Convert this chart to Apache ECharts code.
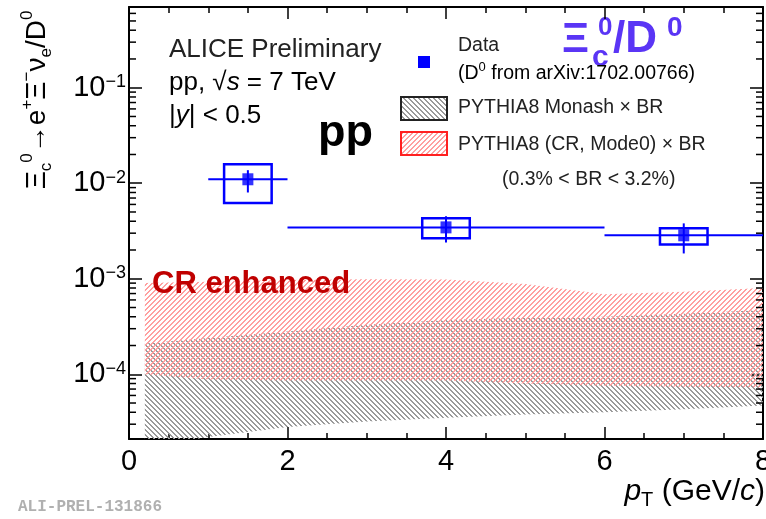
<!DOCTYPE html>
<html>
<head>
<meta charset="utf-8">
<script src="https://cdn.jsdelivr.net/npm/echarts@6/dist/echarts.min.js"></script>
<style>
  html, body { margin: 0; padding: 0; background: #fff; }
  #chart { width: 766px; height: 519px; }
</style>
</head>
<body>
<div id="chart"></div>
<script>
// Xi_c0 / D0 data points
const ptCenter = [1.5, 4, 7]
const ptLow = [1, 2, 6]
const ptHigh = [2, 6, 8]
const ratio = [0.0110, 0.00345, 0.00285]
const statLow = [0.0080, 0.0024, 0.00184]
const statHigh = [0.0137, 0.0045, 0.0038]
const sysLow = [0.0062, 0.00265, 0.00229]
const sysHigh = [0.0158, 0.0043, 0.00337]

// PYTHIA8 x BR bands
const bandPt = [0.2, 1, 2, 3, 4, 5, 6, 7, 8]
const monashLow = [1.7e-5, 2.2e-5, 2.8e-5, 3.2e-5, 3.5e-5, 3.8e-5, 4.0e-5, 4.3e-5, 4.7e-5]
const monashHigh = [2.1e-4, 2.4e-4, 2.8e-4, 3.3e-4, 3.7e-4, 3.9e-4, 4.0e-4, 4.3e-4, 4.7e-4]
const crLow = [1.0e-4, 8.8e-5, 8.6e-5, 8.6e-5, 8.6e-5, 8.0e-5, 7.6e-5, 7.4e-5, 7.3e-5]
const crHigh = [9.0e-4, 9.3e-4, 9.7e-4, 9.9e-4, 9.8e-4, 8.8e-4, 6.9e-4, 7.3e-4, 8.0e-4]

// minor log ticks
const yMinorTicks = [
  3e-5, 4e-5, 5e-5, 6e-5, 7e-5, 8e-5, 9e-5,
  2e-4, 3e-4, 4e-4, 5e-4, 6e-4, 7e-4, 8e-4, 9e-4,
  2e-3, 3e-3, 4e-3, 5e-3, 6e-3, 7e-3, 8e-3, 9e-3,
  2e-2, 3e-2, 4e-2, 5e-2, 6e-2, 7e-2, 8e-2, 9e-2,
  2e-1, 3e-1, 4e-1, 5e-1, 6e-1
]

const FONT = 'Liberation Sans, Arial, Helvetica, sans-serif'
const BLUE = '#0000ff'
const chart = echarts.init(document.getElementById('chart'))

function hatch(color, backslash) {
  const c = document.createElement('canvas')
  c.width = 5
  c.height = 5
  const g = c.getContext('2d')
  g.fillStyle = color
  for (let i = 0; i < 5; i++) {
    const x = backslash ? i : 4 - i
    g.fillRect(x, i, 1, 1)
    g.fillRect((x + 1) % 5, i, 1, 1)
  }
  return { image: c, repeat: 'repeat' }
}
const grayHatch = hatch('#9a9a9a', true)
const redHatch = hatch('#ffa0a0', false)

function band(name, lo, hi, fill) {
  return {
    name,
    type: 'custom',
    clip: true,
    silent: true,
    z: 1,
    data: bandPt.map((x, i) => [x, lo[i]]),
    renderItem(params, api) {
      if (params.dataIndex !== 0) return null
      const top = bandPt.map((x, i) => api.coord([x, hi[i]]))
      const bot = bandPt.map((x, i) => api.coord([x, lo[i]])).reverse()
      return { type: 'polygon', shape: { points: top.concat(bot) }, style: { fill } }
    },
  }
}

function axisX(position, showLabel) {
  return {
    type: 'value', min: 0, max: 8, interval: 2, position,
    axisLine: { show: true, onZero: false, lineStyle: { color: '#000', width: 2 } },
    axisTick: { inside: true, length: 12, lineStyle: { color: '#000', width: 1.5 } },
    minorTick: { show: true, splitNumber: 4, length: 6, lineStyle: { color: '#000', width: 1.5 } },
    axisLabel: { show: showLabel, color: '#000', fontSize: 29, fontFamily: FONT, margin: 8 },
    splitLine: { show: false },
  }
}

function axisY(position, showLabel) {
  return {
    type: 'log', logBase: 10, min: 2.1e-5, max: 0.7, position,
    axisLine: { show: true, onZero: false, lineStyle: { color: '#000', width: 2 } },
    axisTick: { inside: true, length: 13, lineStyle: { color: '#000', width: 1.5 } },
    axisLabel: {
      show: showLabel, margin: 3, showMinLabel: false, showMaxLabel: false,
      formatter: (v) => '{b|10}{s|−' + Math.abs(Math.round(Math.log10(v))) + '}',
      rich: {
        b: { fontSize: 29, fontFamily: FONT, color: '#000', lineHeight: 29 },
        s: { fontSize: 18, fontFamily: FONT, color: '#000', lineHeight: 18, verticalAlign: 'top' },
      },
    },
    splitLine: { show: false },
  }
}

const sup = (size) => ({ fontSize: size, fontFamily: FONT, color: '#222', lineHeight: size, verticalAlign: 'top' })
const sub = (size) => ({ fontSize: size, fontFamily: FONT, color: '#222', lineHeight: size, verticalAlign: 'bottom' })

chart.setOption({
  animation: false,
  backgroundColor: '#fff',
  grid: { left: 129, right: 3, top: 7, bottom: 80, outerBoundsMode: 'none', containLabel: false },
  xAxis: [axisX('bottom', true), axisX('top', false)],
  yAxis: [axisY('left', true), axisY('right', false)],
  series: [
    band('PYTHIA8 Monash × BR', monashLow, monashHigh, grayHatch),
    band('PYTHIA8 (CR, Mode0) × BR', crLow, crHigh, redHatch),
    {
      name: 'errors',
      type: 'custom',
      silent: true,
      z: 3,
      data: ptCenter.map((x, i) => [x, ratio[i], ptLow[i], ptHigh[i], statLow[i], statHigh[i], sysLow[i], sysHigh[i]]),
      renderItem(params, api) {
        const x = api.value(0)
        const y = api.value(1)
        const l = api.coord([api.value(2), y])
        const r = api.coord([api.value(3), y])
        const st = api.coord([x, api.value(5)])
        const sb = api.coord([x, api.value(4)])
        const tl = api.coord([x - 0.3, api.value(7)])
        const br = api.coord([x + 0.3, api.value(6)])
        const line = { stroke: BLUE, lineWidth: 2 }
        return {
          type: 'group',
          children: [
            { type: 'line', shape: { x1: l[0], y1: l[1], x2: r[0], y2: r[1] }, style: line },
            { type: 'line', shape: { x1: st[0], y1: st[1], x2: sb[0], y2: sb[1] }, style: line },
            {
              type: 'rect',
              shape: { x: tl[0], y: tl[1], width: br[0] - tl[0], height: br[1] - tl[1] },
              style: { fill: 'none', stroke: BLUE, lineWidth: 2.5 },
            },
          ],
        }
      },
    },
    {
      name: 'Data',
      type: 'scatter',
      z: 4,
      symbol: 'rect',
      symbolSize: [11, 12],
      itemStyle: { color: BLUE },
      data: ptCenter.map((x, i) => [x, ratio[i]]),
    },
    {
      name: 'minor ticks',
      type: 'custom',
      silent: true,
      z: 5,
      data: yMinorTicks.map((v) => [0, v]),
      renderItem(params, api) {
        const p = api.coord([0, api.value(1)])
        const cs = params.coordSys
        const s = { stroke: '#000', lineWidth: 1.5 }
        return {
          type: 'group',
          children: [
            { type: 'line', shape: { x1: cs.x, y1: p[1], x2: cs.x + 7, y2: p[1] }, style: s },
            { type: 'line', shape: { x1: cs.x + cs.width, y1: p[1], x2: cs.x + cs.width - 7, y2: p[1] }, style: s },
          ],
        }
      },
    },
  ],
  graphic: [
    // y axis title
    {
      type: 'text', x: 37, y: 100, rotation: Math.PI / 2,
      style: {
        text: '{b|Ξ}{u|c}{p|0}{b|→e}{p|+}{b|Ξ}{p|−}{b|ν}{u|e}{b|/D}{p|0}',
        align: 'center', verticalAlign: 'middle',
        rich: {
          b: { fontSize: 28, fontFamily: FONT, color: '#222', lineHeight: 36 },
          p: sup(17),
          u: sub(17),
        },
      },
    },
    // x axis title
    {
      type: 'text', x: 765, y: 492,
      style: {
        text: '{i|p}{u|T}{b| (GeV/}{i|c}{b|)}',
        align: 'right', verticalAlign: 'middle',
        rich: {
          b: { fontSize: 30, fontFamily: FONT, color: '#222', lineHeight: 36 },
          i: { fontSize: 30, fontFamily: FONT, color: '#222', lineHeight: 36, fontStyle: 'italic' },
          u: sub(20),
        },
      },
    },
    { type: 'text', x: 18, y: 507, style: { text: 'ALI-PREL-131866', font: 'bold 16px Liberation Mono, monospace', fill: '#b0b0b0', verticalAlign: 'middle' } },
    // system labels
    { type: 'text', x: 169, y: 50, style: { text: 'ALICE Preliminary', fontSize: 26, fontFamily: FONT, fill: '#222', verticalAlign: 'middle' } },
    {
      type: 'text', x: 169, y: 83,
      style: {
        text: '{b|pp, √}{i|s}{b| = 7 TeV}', verticalAlign: 'middle',
        rich: {
          b: { fontSize: 26, fontFamily: FONT, color: '#222' },
          i: { fontSize: 26, fontFamily: FONT, color: '#222', fontStyle: 'italic' },
        },
      },
    },
    {
      type: 'text', x: 169, y: 116,
      style: {
        text: '{b||}{i|y}{b|| < 0.5}', verticalAlign: 'middle',
        rich: {
          b: { fontSize: 26, fontFamily: FONT, color: '#222' },
          i: { fontSize: 26, fontFamily: FONT, color: '#222', fontStyle: 'italic' },
        },
      },
    },
    { type: 'text', x: 318, y: 134, style: { text: 'pp', fontSize: 45, fontWeight: 'bold', fontFamily: FONT, fill: '#000', verticalAlign: 'middle' } },
    { type: 'text', x: 152, y: 284, z: 10, style: { text: 'CR enhanced', fontSize: 31, fontWeight: 'bold', fontFamily: FONT, fill: '#c00000', verticalAlign: 'middle' } },
    // big ratio label
    { type: 'text', x: 562, y: 40, style: { text: 'Ξ', fontSize: 42, fontWeight: 'bold', fontFamily: FONT, fill: '#5a35f5', verticalAlign: 'middle' } },
    { type: 'text', x: 592, y: 58, style: { text: 'c', fontSize: 30, fontWeight: 'bold', fontFamily: FONT, fill: '#5a35f5', verticalAlign: 'middle' } },
    { type: 'text', x: 598, y: 28, style: { text: '0', fontSize: 26, fontWeight: 'bold', fontFamily: FONT, fill: '#5a35f5', verticalAlign: 'middle' } },
    { type: 'text', x: 613, y: 40, style: { text: '/D', fontSize: 44, fontWeight: 'bold', fontFamily: FONT, fill: '#5a35f5', verticalAlign: 'middle' } },
    { type: 'text', x: 667, y: 28, style: { text: '0', fontSize: 28, fontWeight: 'bold', fontFamily: FONT, fill: '#5a35f5', verticalAlign: 'middle' } },
    // legend
    { type: 'rect', shape: { x: 418, y: 56, width: 12, height: 12 }, style: { fill: BLUE } },
    { type: 'text', x: 458, y: 46, style: { text: 'Data', fontSize: 19.5, fontFamily: FONT, fill: '#222', verticalAlign: 'middle' } },
    {
      type: 'text', x: 458, y: 74,
      style: {
        text: '{b|(D}{p|0}{b| from arXiv:1702.00766)}', verticalAlign: 'middle',
        rich: { b: { fontSize: 19.5, fontFamily: FONT, color: '#222', lineHeight: 26 }, p: sup(13) },
      },
    },
    { type: 'rect', shape: { x: 401, y: 97, width: 46, height: 23 }, style: { fill: grayHatch, stroke: '#222', lineWidth: 2 } },
    { type: 'text', x: 458, y: 108, style: { text: 'PYTHIA8 Monash × BR', fontSize: 19.5, fontFamily: FONT, fill: '#222', verticalAlign: 'middle' } },
    { type: 'rect', shape: { x: 401, y: 132, width: 46, height: 23 }, style: { fill: redHatch, stroke: '#ff2020', lineWidth: 2 } },
    { type: 'text', x: 458, y: 145, style: { text: 'PYTHIA8 (CR, Mode0) × BR', fontSize: 19.5, fontFamily: FONT, fill: '#222', verticalAlign: 'middle' } },
    { type: 'text', x: 502, y: 180, style: { text: '(0.3% < BR < 3.2%)', fontSize: 19.5, fontFamily: FONT, fill: '#222', verticalAlign: 'middle' } },
  ],
})
</script>
</body>
</html>
